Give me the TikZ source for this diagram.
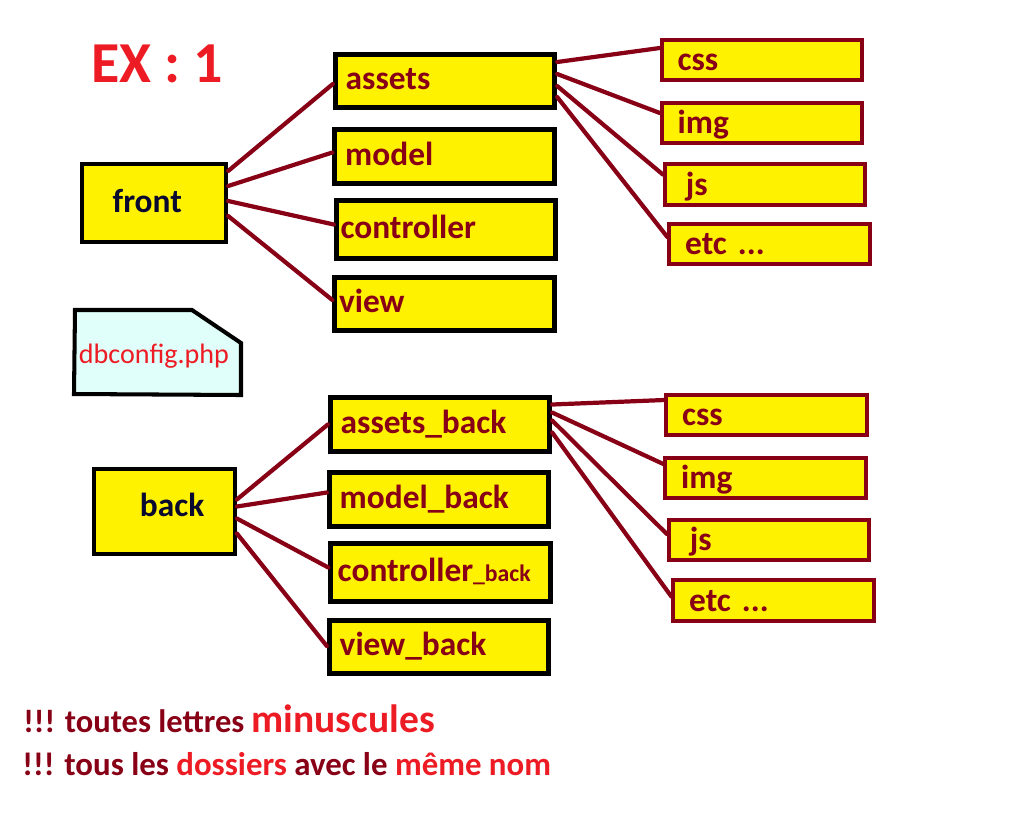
\documentclass[tikz,border=0pt]{standalone}
\usepackage{fontspec}
\setmainfont{Carlito}
\usetikzlibrary{calc}

\definecolor{paintyellow}{HTML}{FFF200}
\definecolor{darkred}{HTML}{880015}
\definecolor{paintred}{HTML}{ED1C24}
\definecolor{lightcyan}{HTML}{E0FFFA}
\definecolor{inkblue}{HTML}{0A0A30}

\begin{document}
\begin{tikzpicture}[
		x=0.02cm, y=-0.02cm,   % pixel grid, y going down
		every node/.style={font=\bfseries\fontsize{19}{21}\selectfont},
		root/.style={draw=black, line width=2.4pt, fill=paintyellow, text=inkblue,
			minimum height=44pt, inner ysep=0pt, align=left, text height=13pt, text depth=2pt},
		folder/.style={draw=black, line width=2.7pt, fill=paintyellow, text=darkred,
			minimum height=30.5pt, inner xsep=6pt, inner ysep=0pt, text width=113pt,
			align=left, text height=13.5pt, text depth=3.5pt},
		tight/.style={inner xsep=2.5pt, text width=120pt},
		subfolder/.style={draw=darkred, line width=2.3pt, fill=paintyellow, text=darkred,
			minimum height=23pt, inner xsep=9pt, inner ysep=0pt, text width=96pt,
			align=left, text height=15pt, text depth=3pt},
		link/.style={draw=darkred, line width=2.4pt, line cap=round}
		]
		\useasboundingbox (0,0) rectangle (1033,819);
		
		\node[text=paintred, font=\bfseries\fontsize{33}{35}\selectfont] (title) at (157,64) {EX : 1};
		
		% front part
		\node[root, inner xsep=17.5pt, text width=47pt] (front) at (154,203) {front};
		\node[folder] (assets) at (445,81) {assets};
		\node[folder] (model) at (444.5,156.5) {model};
		\node[folder, tight, minimum height=33pt] (controller) at (446,229.5) {controller};
		\node[folder, tight] (view) at (444.5,304) {view};
		
		\node[subfolder] (css) at (762,60) {css};
		\node[subfolder] (img) at (762,123) {img};
		\node[subfolder, inner xsep=12pt, text width=90pt] (js) at (765,184.5) {js};
		\node[subfolder] (etc) at (769.5,244) {etc ...};
		
		\draw[link] ($(front.east)+(0,-32)$) -- ($(assets.west)+(0,3)$);
		\draw[link] ($(front.east)+(0,-17)$) -- ($(model.west)+(0,-4)$);
		\draw[link] ($(front.east)+(0,-2)$) -- ($(controller.west)+(0,-5)$);
		\draw[link] ($(front.east)+(0,13)$) -- ($(view.west)+(0,-4)$);
		
		\draw[link] ($(assets.east)+(0,-19)$) -- ($(css.west)+(0,-12)$);
		\draw[link] ($(assets.east)+(0,-7)$) -- ($(img.west)+(0,-10)$);
		\draw[link] ($(assets.east)+(0,5)$) -- ($(js.west)+(0,-10)$);
		\draw[link] ($(assets.east)+(0,16)$) -- ($(etc.west)+(0,-7)$);
		
		% config file
		\draw[line width=2.3pt, fill=lightcyan] (75,310) -- (192,310) -- (241,343) -- (241,395) -- (74,394) -- cycle;
		\node[text=paintred, font=\fontsize{16}{18}\selectfont] (dbconfig) at (154,356) {dbconfig.php};
		
		% back part
		\node[root, inner xsep=26pt, text width=28pt, minimum height=48pt, text height=12pt, text depth=6pt] (back) at (164.5,511.5) {back};
		\node[folder] (assetsback) at (440,424.5) {assets\_back};
		\node[folder] (modelback) at (439,499.5) {model\_back};
		\node[folder, tight, inner xsep=4pt, text width=117pt, minimum height=33pt] (controllerback) at (440.5,572.5) {controller{\fontsize{13.5}{15}\selectfont\_back}};
		\node[folder] (viewback) at (439,647) {view\_back};
		
		\node[subfolder] (cssback) at (766.5,415) {css};
		\node[subfolder] (imgback) at (765.5,478) {img};
		\node[subfolder, inner xsep=12pt, text width=90pt] (jsback) at (769,540) {js};
		\node[subfolder] (etcback) at (773.5,600.5) {etc ...};
		
		\draw[link] ($(back.east)+(0,-12)$) -- ($(assetsback.west)+(0,0)$);
		\draw[link] ($(back.east)+(0,-5)$) -- ($(modelback.west)+(0,-7)$);
		\draw[link] ($(back.east)+(0,7)$) -- ($(controllerback.west)+(0,-5)$);
		\draw[link] ($(back.east)+(0,22)$) -- ($(viewback.west)+(0,-1)$);
		
		\draw[link] ($(assetsback.east)+(0,-20)$) -- ($(cssback.west)+(0,-15)$);
		\draw[link] ($(assetsback.east)+(0,-12)$) -- ($(imgback.west)+(0,-14)$);
		\draw[link] ($(assetsback.east)+(0,-4)$) -- ($(jsback.west)+(0,-6)$);
		\draw[link] ($(assetsback.east)+(0,8)$) -- ($(etcback.west)+(0,-4)$);
		
		% notes
		\node[anchor=base west, inner sep=0pt, text=darkred, font=\bfseries\fontsize{18.5}{20}\selectfont] (note1) at (23,732)
		{!!! toutes lettres {\color{paintred}\fontsize{22.5}{24}\selectfont minuscules}};
		\node[anchor=base west, inner sep=0pt, text=darkred, font=\bfseries\fontsize{18.7}{20}\selectfont] (note2) at (22,775)
		{!!! tous les {\color{paintred}dossiers} avec le {\color{paintred}même nom}};
		
	\end{tikzpicture}
\end{document}
